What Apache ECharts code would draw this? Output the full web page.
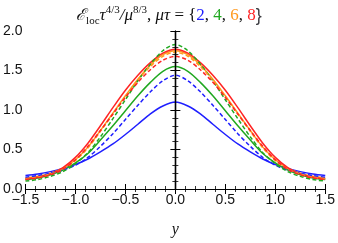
<!DOCTYPE html>
<html><head><meta charset="utf-8">
<script src="https://cdn.jsdelivr.net/npm/echarts@6/dist/echarts.min.js"></script>
<style>html,body{margin:0;padding:0;background:#fff}#c{width:338px;height:243px}</style>
</head><body><div id="c"></div>
<script>
const xs = [-1.5,-1.375,-1.25,-1.125,-1,-0.875,-0.75,-0.625,-0.5,-0.375,-0.25,-0.125,0,
            0.125,0.25,0.375,0.5,0.625,0.75,0.875,1,1.125,1.25,1.375,1.5];
const blueSolid   = [0.17,0.19,0.22,0.26,0.31,0.38,0.47,0.57,0.69,0.82,0.95,1.05,1.10,
                     1.05,0.95,0.82,0.69,0.57,0.47,0.38,0.31,0.26,0.22,0.19,0.17];
const blueDashed  = [0.15,0.17,0.20,0.24,0.30,0.40,0.54,0.70,0.88,1.06,1.23,1.37,1.44,
                     1.37,1.23,1.06,0.88,0.70,0.54,0.40,0.30,0.24,0.20,0.17,0.15];
const greenSolid  = [0.12,0.14,0.18,0.24,0.33,0.45,0.62,0.80,0.99,1.18,1.35,1.49,1.55,
                     1.49,1.35,1.18,0.99,0.80,0.62,0.45,0.33,0.24,0.18,0.14,0.12];
const greenDashed = [0.10,0.12,0.16,0.22,0.32,0.46,0.66,0.89,1.13,1.37,1.58,1.75,1.83,
                     1.75,1.58,1.37,1.13,0.89,0.66,0.46,0.32,0.22,0.16,0.12,0.10];
const orangeSolid = [0.14,0.16,0.20,0.26,0.37,0.53,0.74,0.96,1.18,1.39,1.57,1.70,1.75,
                     1.70,1.57,1.39,1.18,0.96,0.74,0.53,0.37,0.26,0.20,0.16,0.14];
const orangeDashed= [0.13,0.15,0.19,0.25,0.36,0.52,0.73,0.95,1.17,1.38,1.55,1.68,1.73,
                     1.68,1.55,1.38,1.17,0.95,0.73,0.52,0.36,0.25,0.19,0.15,0.13];
const redSolid    = [0.13,0.15,0.19,0.27,0.40,0.58,0.80,1.03,1.25,1.44,1.60,1.72,1.77,
                     1.72,1.60,1.44,1.25,1.03,0.80,0.58,0.40,0.27,0.19,0.15,0.13];
const redDashed   = [0.12,0.14,0.18,0.25,0.37,0.54,0.74,0.95,1.16,1.35,1.51,1.63,1.68,
                     1.63,1.51,1.35,1.16,0.95,0.74,0.54,0.37,0.25,0.18,0.14,0.12];
const xTickLabels = ['−1.5','−1.0','−0.5','0.0','0.5','1.0','1.5'];

const C = {blue:'#1f1fff', green:'#20a820', orange:'#ff9a1f', red:'#ff2424'};
function pts(arr){ return xs.map((x,i)=>[x,arr[i]]); }
function ser(name, arr, color, dashed){
  return {name, type:'line', data:pts(arr), smooth:0.3, showSymbol:false, symbol:'none',
    lineStyle:{color, width:1.5, type: dashed ? [4,2.5] : 'solid'}, z: dashed?3:2};
}
const tickCommon = {
  axisLine:{show:true, lineStyle:{color:'#000', width:1.2}},
  axisTick:{show:true, inside:true, length:5, lineStyle:{color:'#000', width:1}},
  minorTick:{show:true, splitNumber:5, length:3, lineStyle:{color:'#000', width:0.8}},
  splitLine:{show:false}
};
const labelFont = {fontFamily:'Liberation Sans', fontSize:14, color:'#111'};
const chart = echarts.init(document.getElementById('c'));
const series = [
  ser('b', blueSolid, C.blue, false),
  ser('bd', blueDashed, C.blue, true),
  ser('g', greenSolid, C.green, false),
  ser('gd', greenDashed, C.green, true),
  ser('o', orangeSolid, C.orange, false),
  ser('od', orangeDashed, C.orange, true),
  ser('r', redSolid, C.red, false),
  ser('rd', redDashed, C.red, true)
];
series[0].markLine = {silent:true, symbol:'none', label:{show:false},
  lineStyle:{color:'#000', type:'solid', width:1.3}, data:[{xAxis:0}]};
const base = {fontFamily:'Liberation Serif', fontWeight:'normal', color:'#111', lineHeight:22};
function st(o){ return Object.assign({}, base, o); }
chart.setOption({
  animation:false,
  title:{
    text:'{e|ℰ}{s|loc}{i|τ}{p|4/3}{i|/μ}{p|8/3}{n|, }{i|μτ}{n| = {}{b|2}{n|, }{g|4}{n|, }{o|6}{n|, }{r|8}{n|}}',
    left:'center', top:0,
    textStyle:{
      fontWeight:'normal',
      rich:{
        e:st({fontFamily:'DejaVu Serif', fontStyle:'italic', fontSize:16}),
        i:st({fontStyle:'italic', fontSize:17}),
        n:st({fontSize:17}),
        s:st({fontSize:11, verticalAlign:'bottom', padding:[7,0,0,0]}),
        p:st({fontSize:11, verticalAlign:'top', padding:[0,0,6,0]}),
        b:st({fontSize:17, color:C.blue}),
        g:st({fontSize:17, color:C.green}),
        o:st({fontSize:17, color:C.orange}),
        r:st({fontSize:17, color:C.red})
      }
    }
  },
  grid:{left:23, right:10, top:31, bottom:53},
  xAxis:[
    Object.assign({type:'value', min:-1.5, max:1.5, interval:0.5, position:'bottom',
      name:'y', nameLocation:'middle', nameGap:33,
      nameTextStyle:{fontFamily:'Liberation Serif', fontStyle:'italic', fontSize:16, color:'#111'},
      axisLabel:Object.assign({margin:4, formatter:v=>xTickLabels[Math.round((v+1.5)/0.5)]}, labelFont)}, tickCommon),
    Object.assign({type:'value', min:-1.5, max:1.5, interval:0.5, position:'top', axisLabel:{show:false}}, tickCommon)
  ],
  yAxis:[
    Object.assign({type:'value', min:0, max:2, interval:0.5, position:'left',
      axisLabel:Object.assign({margin:3, formatter:v=>v.toFixed(1)}, labelFont)}, tickCommon),
    Object.assign({type:'value', min:0, max:2, interval:0.5, position:'right', axisLabel:{show:false}}, tickCommon)
  ],
  series
});
</script></body></html>
